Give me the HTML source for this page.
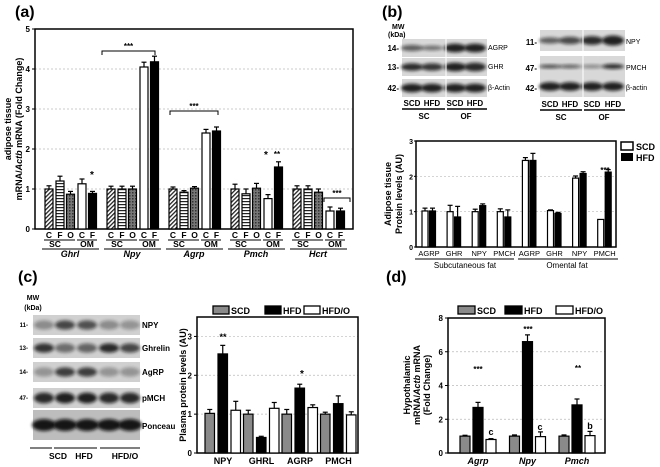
<!DOCTYPE html>
<html><head><meta charset="utf-8"><style>
body{margin:0;background:#fff;}
svg{display:block;font-family:"Liberation Sans",Arial,sans-serif;}
</style></head><body>
<svg id="fig" width="660" height="467" viewBox="0 0 660 467" xmlns="http://www.w3.org/2000/svg">
<defs>
<pattern id="diag" width="3" height="3" patternUnits="userSpaceOnUse" patternTransform="rotate(45)"><rect width="3" height="3" fill="#fff"/><rect width="1.3" height="3" fill="#222"/></pattern>
<pattern id="horiz" width="3" height="3" patternUnits="userSpaceOnUse"><rect width="3" height="3" fill="#fff"/><rect width="3" height="1.2" fill="#222"/></pattern>
<pattern id="cross" width="3" height="3" patternUnits="userSpaceOnUse"><rect width="3" height="3" fill="#777"/><rect width="1.5" height="1.5" fill="#333"/></pattern>
<filter id="blur" x="-20%" y="-50%" width="140%" height="200%"><feGaussianBlur stdDeviation="1.6"/></filter>
</defs>
<g id="root"></g>
</svg>
<script>
// Panel (a)
const aGenes=["Ghrl","Npy","Agrp","Pmch","Hcrt"];
const aBarLabels=["C","F","O","C","F"];
const aValues=[[1.0,1.2,0.87,1.13,0.89],[1.0,1.0,1.0,4.05,4.18],[1.0,0.92,1.02,2.4,2.45],[1.0,0.88,1.02,0.76,1.55],[1.0,1.0,0.92,0.45,0.45]];
const aErrors=[[0.08,0.12,0.07,0.12,0.05],[0.07,0.07,0.07,0.12,0.14],[0.05,0.04,0.04,0.09,0.1],[0.12,0.12,0.12,0.1,0.13],[0.08,0.08,0.08,0.1,0.07]];
const aTicks=[0,1,2,3,4,5];
// Panel (b)
const bCats=["AGRP","GHR","NPY","PMCH","AGRP","GHR","NPY","PMCH"];
const bSCD=[1.02,1.0,1.0,1.0,2.45,1.03,1.95,0.78];
const bHFD=[1.02,0.85,1.17,0.85,2.45,0.95,2.08,2.12];
const bSCDerr=[0.08,0.18,0.07,0.08,0.08,0.02,0.06,0];
const bHFDerr=[0.08,0.3,0.05,0.2,0.2,0.03,0.05,0.07];
const bTicks=[0,1,2,3];
// Panel (c)
const cCats=["NPY","GHRL","AGRP","PMCH"];
const cSCD=[1.02,1.0,1.0,1.0];
const cHFD=[2.55,0.4,1.67,1.27];
const cHFDO=[1.1,1.15,1.17,0.98];
const cSCDerr=[0.1,0.1,0.12,0.05];
const cHFDerr=[0.22,0.03,0.1,0.2];
const cHFDOerr=[0.23,0.15,0.07,0.08];
const cTicks=[0,1,2,3];
// Panel (d)
const dCats=["Agrp","Npy","Pmch"];
const dSCD=[1.0,1.0,1.0];
const dHFD=[2.7,6.6,2.85];
const dHFDO=[0.8,0.97,1.03];
const dSCDerr=[0.05,0.07,0.07];
const dHFDerr=[0.3,0.4,0.35];
const dHFDOerr=[0.05,0.28,0.25];
const dTicks=[0,2,4,6,8];

const NS="http://www.w3.org/2000/svg";
const root=document.getElementById('root');
function el(tag,attrs,parent,text){const e=document.createElementNS(NS,tag);for(const k in attrs)e.setAttribute(k,attrs[k]);if(text!==undefined)e.textContent=text;(parent||root).appendChild(e);return e;}
function lin(d0,d1,r0,r1){return v=>r0+(v-d0)/(d1-d0)*(r1-r0);}
function bar(g,x,w,y0,y1,fill,err,ey){
  const r=el('rect',{x:x,y:Math.min(y0,y1),width:w,height:Math.abs(y0-y1),fill:fill,stroke:'#000','stroke-width':1.2},g);
  
  
  if(err>0){el('line',{x1:x+w/2,x2:x+w/2,y1:y1,y2:ey,stroke:'#000','stroke-width':1.2},g);el('line',{x1:x+w/2-2.5,x2:x+w/2+2.5,y1:ey,y2:ey,stroke:'#000','stroke-width':1.2},g);}
}
function txt(g,x,y,s,opt){const t=el('text',Object.assign({x:x,y:y,'font-size':9,'font-weight':'bold','text-anchor':'middle'},opt||{}),g,s);return t;}

// panel letters
[["(a)",15,17],["(b)",382,17],["(c)",18,282],["(d)",386,282]].forEach(p=>{const t=el('text',{x:p[1],y:p[2],'font-size':16,'font-weight':'bold'},root,p[0]);});

// ---------- Panel A ----------
(function(){
const g=el('g',{});
const L=35,R=353,T=29,B=229;const y=lin(0,5,B,T);
aTicks.forEach(t=>{if(t>0&&t<5)el('line',{x1:L,x2:R,y1:y(t),y2:y(t),stroke:'#bbb','stroke-dasharray':'2,2','stroke-width':0.7},g);el('line',{x1:L-3,x2:L,y1:y(t),y2:y(t),stroke:'#000'},g);txt(g,L-5,y(t)+3,String(t),{'font-size':8,'text-anchor':'end'});});
el('rect',{x:L,y:T,width:R-L,height:B-T,fill:'none',stroke:'#000','stroke-width':1.5},g);
const fills=['url(#diag)','url(#horiz)','url(#cross)','#fff','#000'];
const offs=[0,11,21.5,33,43.5];
aGenes.forEach((gn,i)=>{const gx=45+i*62;
 aValues[i].forEach((v,j)=>{const x=gx+offs[j];bar(g,x,8,B,y(v),fills[j],aErrors[i][j],y(v+aErrors[i][j]));
   txt(g,x+4,238,aBarLabels[j],{'font-size':8.5});});
 el('line',{x1:gx-1,x2:gx+30,y1:240,y2:240,stroke:'#000','stroke-width':1},g);
 el('line',{x1:gx+32,x2:gx+52,y1:240,y2:240,stroke:'#000','stroke-width':1},g);
 txt(g,gx+10,247,"SC",{'font-size':8.5});txt(g,gx+42,247,"OM",{'font-size':8.5});
 el('line',{x1:gx-3,x2:gx+54,y1:249,y2:249,stroke:'#000','stroke-width':1},g);
 txt(g,gx+25,257,gn,{'font-size':9,'font-style':'italic'});
});
const sig=(x1,x2,yy,s)=>{el('path',{d:`M${x1},${yy+4}V${yy}H${x2}V${yy+4}`,fill:'none',stroke:'#000'},g);txt(g,(x1+x2)/2,yy-2,s,{'font-size':8});};
sig(102,155,51,"***");sig(170,218,111,"***");sig(324,350,198,"***");
txt(g,92,178,"*",{'font-size':10});txt(g,266,158,"*",{'font-size':10});txt(g,277,157,"**",{'font-size':8});
const yt=el('text',{transform:'translate(11,129) rotate(-90)','font-size':9,'font-weight':'bold','text-anchor':'middle'},g);
el('tspan',{x:0,dy:0},yt,"adipose tissue");el('tspan',{x:0,dy:11},yt,"mRNA/");el('tspan',{'font-style':'italic'},yt,"Actb");el('tspan',{},yt," mRNA (Fold Change)");

})();

// ---------- Blots helper ----------
function blot(g,x,y,w,h,bands,bg){
 el('rect',{x:x,y:y,width:w,height:h,fill:bg||'#d8d8d8'},g);
 bands.forEach(b=>el('ellipse',{cx:b[0],cy:y+h/2,rx:b[1],ry:b[2],fill:'#111',opacity:b[3],filter:'url(#blur)'},g));
}
(function(){
const g=el('g',{});
txt(g,392,29,"MW",{'font-size':7,'text-anchor':'start'});txt(g,388,37,"(kDa)",{'font-size':7,'text-anchor':'start'});
const cols1=[412,432,455,475],cols2=[550,570,592,613];
[[48,"14-","AGRP",[.6,.5,.9,.9],[5,4,7,7]],[67,"13-","GHR",[.85,.8,.9,.85],[6,6,7,7]],[88,"42-","β-Actin",[.9,.9,.9,.9],[7,7,7,7]]].forEach(r=>{
 blot(g,402,r[0]-9,85,18,cols1.map((c,k)=>[c,11,r[4][k]/1.6,r[3][k]]));
 el('line',{x1:446,x2:446,y1:r[0]-9,y2:r[0]+9,stroke:'#fff'},g);
 txt(g,399,r[0]+3,r[1],{'font-size':8,'text-anchor':'end'});txt(g,488,r[0]+2,r[2],{'font-size':7,'text-anchor':'start','font-weight':'normal'});});
[[42,"11-","NPY",[.6,.7,.85,.9],[5,6,7,8]],[68,"47-","PMCH",[.7,.6,.4,.85],[3,3,3,4]],[88,"42-","β-actin",[.9,.9,.9,.9],[7,7,7,7]]].forEach(r=>{
 blot(g,540,r[0]-12,85,21,cols2.map((c,k)=>[c,11,r[4][k]/1.6,r[3][k]]));
 el('line',{x1:583,x2:583,y1:r[0]-12,y2:r[0]+9,stroke:'#fff'},g);
 txt(g,537,r[0]+3,r[1],{'font-size':8,'text-anchor':'end'});txt(g,626,r[0]+2,r[2],{'font-size':7,'text-anchor':'start','font-weight':'normal'});});
["SCD","HFD","SCD","HFD"].forEach((s,k)=>{txt(g,cols1[k],106,s,{'font-size':8});txt(g,cols2[k],107,s,{'font-size':8});});
el('line',{x1:402,x2:445,y1:109,y2:109,stroke:'#000','stroke-width':1.5},g);el('line',{x1:447,x2:487,y1:109,y2:109,stroke:'#000','stroke-width':1.5},g);
el('line',{x1:540,x2:582,y1:110,y2:110,stroke:'#000','stroke-width':1.5},g);el('line',{x1:584,x2:625,y1:110,y2:110,stroke:'#000','stroke-width':1.5},g);
txt(g,424,119,"SC",{'font-size':8});txt(g,466,119,"OF",{'font-size':8});txt(g,561,120,"SC",{'font-size':8});txt(g,604,120,"OF",{'font-size':8});
})();

// ---------- Panel B chart ----------
(function(){
const g=el('g',{});
const L=416,R=616,T=141,B=247;const y=lin(0,3,B,T);
bTicks.forEach(t=>{if(t>0&&t<3)el('line',{x1:L,x2:R,y1:y(t),y2:y(t),stroke:'#bbb','stroke-dasharray':'2,2','stroke-width':0.7},g);el('line',{x1:L-2,x2:L,y1:y(t),y2:y(t),stroke:'#000'},g);txt(g,L-3,y(t)+3,String(t),{'font-size':7,'text-anchor':'end'});});
el('rect',{x:L,y:T,width:R-L,height:B-T,fill:'none',stroke:'#000','stroke-width':1.5},g);
bCats.forEach((c,i)=>{const x=422+i*25.1;
 bar(g,x,6,B,y(bSCD[i]),'#fff',bSCDerr[i],y(bSCD[i]+bSCDerr[i]));
 bar(g,x+7.5,6,B,y(bHFD[i]),'#000',bHFDerr[i],y(bHFD[i]+bHFDerr[i]));
 txt(g,x+7,256,c,{'font-size':7.5,'font-weight':'normal'});});
el('line',{x1:415,x2:514,y1:259,y2:259,stroke:'#000'},g);el('line',{x1:518,x2:618,y1:259,y2:259,stroke:'#000'},g);
txt(g,465,268,"Subcutaneous fat",{'font-size':8,'font-weight':'normal'});txt(g,567,268,"Omental fat",{'font-size':8,'font-weight':'normal'});
txt(g,605,173,"***",{'font-size':8});
el('rect',{x:621,y:142,width:12,height:8,fill:'#fff',stroke:'#000','stroke-width':1.5},g);txt(g,636,150,"SCD",{'font-size':9,'text-anchor':'start'});
el('rect',{x:621,y:153,width:12,height:8,fill:'#000'},g);txt(g,636,161,"HFD",{'font-size':9,'text-anchor':'start'});
const yt=el('text',{transform:'translate(391,194) rotate(-90)','font-size':9,'font-weight':'bold','text-anchor':'middle'},g);
el('tspan',{x:0,dy:0},yt,"Adipose tissue");el('tspan',{x:0,dy:11},yt,"Protein levels (AU)");
})();

// ---------- Panel C blots ----------
(function(){
const g=el('g',{});
txt(g,33,300,"MW",{'font-size':7});txt(g,33,310,"(kDa)",{'font-size':7});
const cols=[44,65,87,109,130];
[[325,"11-","NPY",[.35,.7,.65,.35,.3],14],[348,"13-","Ghrelin",[.8,.5,.55,.85,.7],14],[372,"14-","AgRP",[.3,.75,.75,.3,.3],14],[398,"47-","pMCH",[.85,.9,.9,.85,.85],16]].forEach(r=>{
 blot(g,33,r[0]-10,107,20,cols.map((c,k)=>[c,10,r[4]/3,r[3][k]]),'#d0d0d0');
 txt(g,28,r[0]+2,r[1],{'font-size':6,'text-anchor':'end'});txt(g,142,r[0]+3,r[2],{'font-size':8,'text-anchor':'start'});});
blot(g,33,410,107,30,cols.map(c=>[c,12,6,.95]),'#bdbdbd');
txt(g,142,429,"Ponceau",{'font-size':8,'text-anchor':'start'});
el('line',{x1:30,x2:52,y1:448,y2:448,stroke:'#000'},g);el('line',{x1:54,x2:97,y1:448,y2:448,stroke:'#000'},g);el('line',{x1:100,x2:140,y1:448,y2:448,stroke:'#000'},g);
txt(g,58,459,"SCD",{'font-size':8.5});txt(g,84,459,"HFD",{'font-size':8.5});txt(g,125,459,"HFD/O",{'font-size':8.5});
})();

// ---------- Panel C chart ----------
(function(){
const g=el('g',{});
const L=197,R=358,T=317,B=453;const y=lin(0,3.5,B,T);
cTicks.forEach(t=>{if(t>0)el('line',{x1:L,x2:R,y1:y(t),y2:y(t),stroke:'#bbb','stroke-dasharray':'2,2','stroke-width':0.7},g);el('line',{x1:L-3,x2:L,y1:y(t),y2:y(t),stroke:'#000'},g);txt(g,L-5,y(t)+3,String(t),{'font-size':8,'text-anchor':'end'});});
el('rect',{x:L,y:T,width:R-L,height:B-T,fill:'none',stroke:'#000','stroke-width':1.5},g);
cCats.forEach((c,i)=>{const x=205+i*38.5;
 bar(g,x,9.5,B,y(cSCD[i]),'#8a8a8a',cSCDerr[i],y(cSCD[i]+cSCDerr[i]));
 bar(g,x+13,9.5,B,y(cHFD[i]),'#000',cHFDerr[i],y(cHFD[i]+cHFDerr[i]));
 bar(g,x+26,9.5,B,y(cHFDO[i]),'#fff',cHFDOerr[i],y(cHFDO[i]+cHFDOerr[i]));
 txt(g,x+18,464,c,{'font-size':9});});
txt(g,223,340,"**",{'font-size':9});txt(g,223,415,"**",{'font-size':9});txt(g,302,377,"*",{'font-size':10});
[[213,'#8a8a8a',"SCD"],[265,'#000',"HFD"],[304,'#fff',"HFD/O"]].forEach(l=>{el('rect',{x:l[0],y:306,width:16,height:8,fill:l[1],stroke:'#000','stroke-width':1.3},g);txt(g,l[0]+18,314,l[2],{'font-size':9,'text-anchor':'start'});});
el('text',{transform:'translate(186,385) rotate(-90)','font-size':9,'font-weight':'bold','text-anchor':'middle'},g,"Plasma protein levels (AU)");
})();

// ---------- Panel D chart ----------
(function(){
const g=el('g',{});
const L=448,R=605,T=318,B=453;const y=lin(0,8,B,T);
dTicks.forEach(t=>{if(t>0&&t<8)el('line',{x1:L,x2:R,y1:y(t),y2:y(t),stroke:'#bbb','stroke-dasharray':'2,2','stroke-width':0.7},g);el('line',{x1:L-3,x2:L,y1:y(t),y2:y(t),stroke:'#000'},g);txt(g,L-5,y(t)+3,String(t),{'font-size':8,'text-anchor':'end'});});
el('rect',{x:L,y:T,width:R-L,height:B-T,fill:'none',stroke:'#000','stroke-width':1.5},g);
dCats.forEach((c,i)=>{const x=460+i*49.5;
 bar(g,x,10,B,y(dSCD[i]),'#8a8a8a',dSCDerr[i],y(dSCD[i]+dSCDerr[i]));
 bar(g,x+13,10,B,y(dHFD[i]),'#000',dHFDerr[i],y(dHFD[i]+dHFDerr[i]));
 bar(g,x+26,10,B,y(dHFDO[i]),'#fff',dHFDOerr[i],y(dHFDO[i]+dHFDOerr[i]));
 txt(g,x+18,464,c,{'font-size':9,'font-style':'italic'});});
txt(g,478,372,"***",{'font-size':8});txt(g,528,332,"***",{'font-size':8});txt(g,578,371,"**",{'font-size':8});
txt(g,491,435,"c",{'font-size':9});txt(g,540,430,"c",{'font-size':9});txt(g,590,429,"b",{'font-size':9});
[[458,'#8a8a8a',"SCD"],[505,'#000',"HFD"],[556,'#fff',"HFD/O"]].forEach(l=>{el('rect',{x:l[0],y:306,width:17,height:8,fill:l[1],stroke:'#000','stroke-width':1.3},g);txt(g,l[0]+19,314,l[2],{'font-size':9,'text-anchor':'start'});});
const yt=el('text',{transform:'translate(410,385) rotate(-90)','font-size':9,'font-weight':'bold','text-anchor':'middle'},g);
el('tspan',{x:0,dy:0},yt,"Hypothalamic");el('tspan',{x:0,dy:10},yt,"mRNA/");el('tspan',{'font-style':'italic'},yt,"Actb");el('tspan',{},yt," mRNA");el('tspan',{x:0,dy:10},yt,"(Fold Change)");
})();
</script>
</body></html>
